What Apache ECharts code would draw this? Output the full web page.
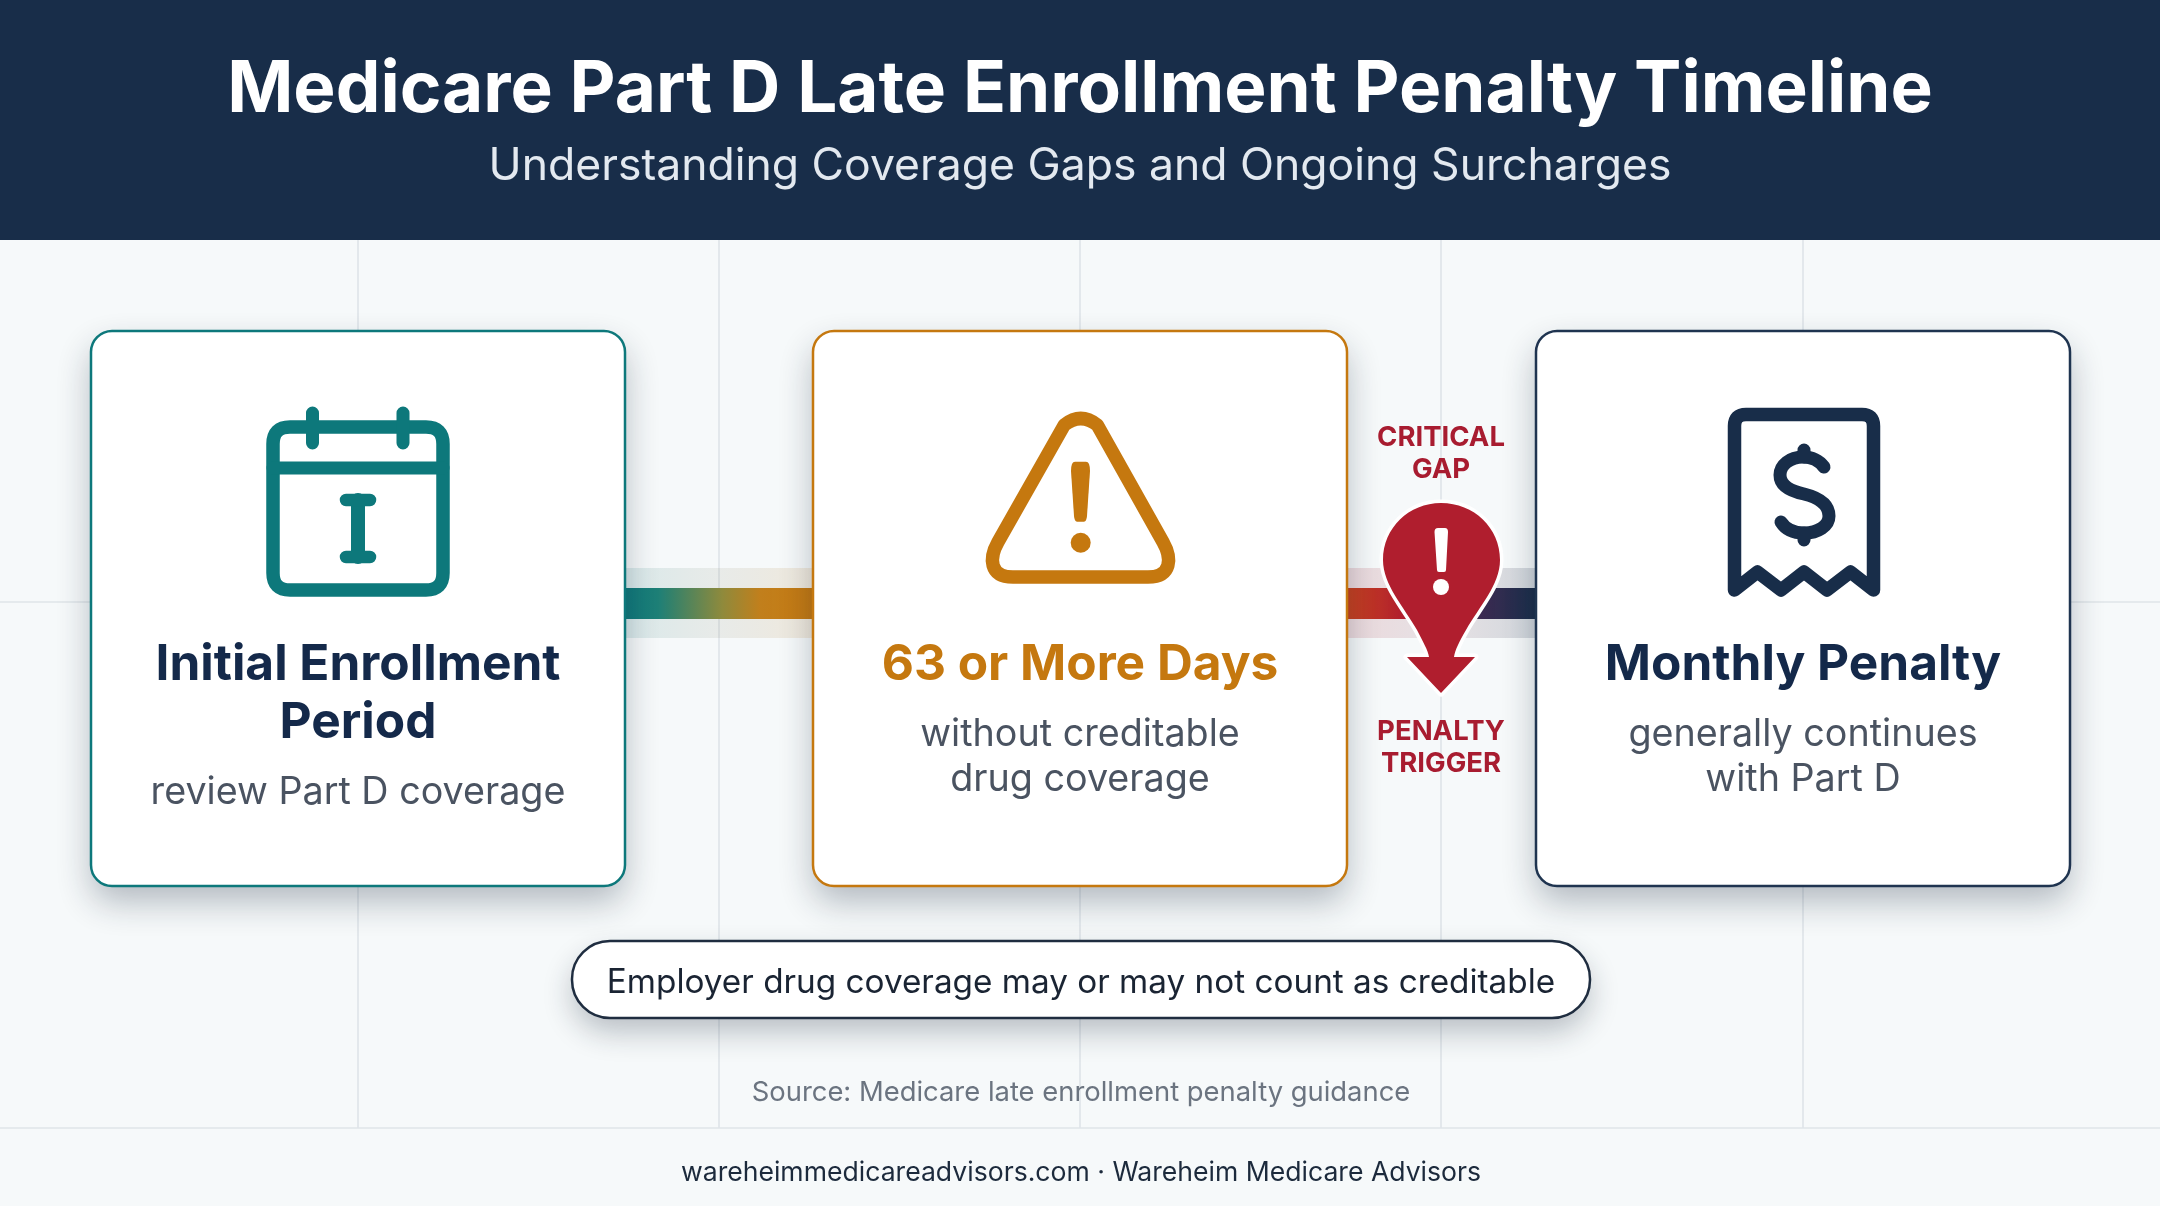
<!DOCTYPE html>
<html><head><meta charset="utf-8">
<style>html,body{margin:0;padding:0;background:#f6f9fa}#c{width:2160px;height:1206px}</style>
<script src="https://cdn.jsdelivr.net/npm/echarts@6/dist/echarts.min.js"></script>
</head><body><div id="c"></div>
<script>
// Text content
const chartTitle = 'Medicare Part D Late Enrollment Penalty Timeline';
const chartSubtitle = 'Understanding Coverage Gaps and Ongoing Surcharges';
const cardHeadings = [['Initial Enrollment','Period'],['63 or More Days'],['Monthly Penalty']];
const cardNotes = [['review Part D coverage'],['without creditable','drug coverage'],['generally continues','with Part D']];
const gapLabelTop = ['CRITICAL','GAP'];
const gapLabelBottom = ['PENALTY','TRIGGER'];
const pillText = 'Employer drug coverage may or may not count as creditable';
const sourceText = 'Source: Medicare late enrollment penalty guidance';
const footerText = 'wareheimmedicareadvisors.com · Wareheim Medicare Advisors';
// Background rule positions on the page-sized axes
const verticalRules = [358,719,1080,1441,1803];
const horizontalRules = [362,888];

const FONT = 'Inter, "Noto Sans", sans-serif';
const NAVY='#182d49', TEAL='#0d787b', AMBER='#c5780f', RED='#b01e2e', INK='#14294a', GREY='#4a5361';
const LG = echarts.graphic.LinearGradient;
const els=[], icons=[];
const add=(o,z)=>{o.silent=true;o.z=z;els.push(o);};
const text=(s,x,y,size,weight,fill)=>add({type:'text',style:{text:s,x,y,fontFamily:FONT,fontSize:size,fontWeight:weight,fill,textAlign:'center',textVerticalAlign:'middle'}},14);
const stroke=(d,color,w)=>icons.push({type:'path',z2:icons.length,shape:{pathData:d},style:{fill:'none',stroke:color,lineWidth:w,lineCap:'round',lineJoin:'round'}});
const fill=(d,color,extra)=>icons.push({type:'path',z2:icons.length,shape:{pathData:d},style:Object.assign({fill:color},extra||{})});
const dot=(cx,cy,r,color)=>icons.push({type:'circle',z2:icons.length,shape:{cx,cy,r},style:{fill:color}});
const panel=(shape,border,shadow,blur,dy)=>{
  add({type:'rect',shape,style:{fill:'#fff',shadowBlur:blur,shadowOffsetY:dy,shadowColor:shadow}},11);
  add({type:'rect',shape,style:{fill:'#fff',stroke:border,lineWidth:2.5}},11);
};

// header
add({type:'rect',shape:{x:0,y:0,width:2160,height:240},style:{fill:NAVY}},11);
text(chartTitle,1080,91,71,700,'#ffffff');
text(chartSubtitle,1080,167,44.5,400,'#e3e9f0');

// connectors
const conn=(x,w,stops,haloStops)=>{
  add({type:'rect',shape:{x,y:568,width:w,height:70},style:{fill:new LG(0,0,1,0,haloStops)}},10);
  add({type:'rect',shape:{x,y:588,width:w,height:31},style:{fill:new LG(0,0,1,0,stops)}},10);
};
conn(624,189,[{offset:0,color:TEAL},{offset:.18,color:'#1c7f76'},{offset:.52,color:'#8f8a3c'},{offset:.72,color:'#c17f1c'},{offset:1,color:AMBER}],
  [{offset:0,color:'rgba(15,124,128,.13)'},{offset:.5,color:'rgba(110,110,80,.10)'},{offset:1,color:'rgba(197,120,15,.13)'}]);
conn(1347,189,[{offset:0,color:'#c8411d'},{offset:.3,color:'#b01e2e'},{offset:.7,color:'#3d2a52'},{offset:1,color:NAVY}],
  [{offset:0,color:'rgba(176,30,46,.15)'},{offset:.5,color:'rgba(120,60,80,.12)'},{offset:1,color:'rgba(24,45,73,.17)'}]);

// cards
const cardX=[91,813,1536], cardColors=[TEAL,AMBER,'#1f3450'];
cardX.forEach((x,i)=>{
  panel({x,y:331,width:534,height:555,r:21},cardColors[i],'rgba(20,35,55,.30)',34,16);
  const cx=x+267, head=cardHeadings[i], note=cardNotes[i];
  head.forEach((t,j)=>text(t,cx,665+58*j,49.6,700,i===1?AMBER:INK));
  const ny = head.length===2 ? [793] : [735,780];
  note.forEach((t,j)=>text(t,cx,ny[j],37.7,400,GREY));
});

// calendar icon
stroke('M290 427H426Q443 427 443 444V573Q443 590 426 590H290Q273 590 273 573V444Q273 427 290 427Z',TEAL,13.5);
stroke('M273 468H443',TEAL,13);
stroke('M312.5 413V443M403 413V443',TEAL,13);
stroke('M358 500V557',TEAL,14);
stroke('M346 500H370M346 557H370',TEAL,12.5);

// warning icon
stroke('M1064.3 425Q1080.7 412 1097.3 425L1163 542C1172 558 1172 577 1148 577H1013C989 577 989 558 998 542Z',AMBER,13.5);
fill('M1071 471Q1071 461.7 1075 461.7H1086Q1090 461.7 1090 471L1087 516Q1086.5 521.7 1084 521.7H1077Q1074.5 521.7 1074 516Z',AMBER);
dot(1080.7,542.7,10,AMBER);

// receipt icon
stroke('M1734.5 590V426Q1734.5 414.5 1746 414.5H1862Q1873.5 414.5 1873.5 426V590L1850.5 572L1827 590L1804 572L1781 590L1757.5 572Z',NAVY,13.5);
stroke('M1824 467C1818 459 1810 457 1803 457C1790 457 1780 465 1780 475C1780 486 1790 491 1804 494C1820 498 1829 505 1829 516C1829 526 1818 533 1804 533C1795 533 1786 530 1781 522',NAVY,13);
stroke('M1804 450V457M1804 533V540',NAVY,13);

// gap marker
gapLabelTop.forEach((t,j)=>text(t,1441,438+32*j,27.5,700,'#a81c30'));
gapLabelBottom.forEach((t,j)=>text(t,1441,732+32*j,27.5,700,'#a81c30'));
const pinPath='M1441 503C1474 503 1500 528 1500 560C1500 585 1479 607 1466 630C1459 642 1455 650 1454 657L1475 657L1441 693L1407 657L1429 657C1428 650 1423 642 1417 630C1404 607 1383 585 1383 560C1383 528 1409 503 1441 503Z';
fill(pinPath,'#fff',{stroke:'#fff',lineWidth:7,lineJoin:'round'});
fill(pinPath,RED);
fill('M1434.5 532Q1434.5 528 1438 528H1445Q1448 528 1448 532L1446 570Q1446 572 1444 572H1439Q1437 572 1437 570Z','#fff');
dot(1441,587,8,'#fff');

// pill
panel({x:572,y:941,width:1018,height:77,r:38},'#1f2d40','rgba(20,35,55,.28)',30,14);
text(pillText,1081,983,33.3,400,'#1a2433');
text(sourceText,1081,1093,27.4,400,'#6b7480');
text(footerText,1081,1173,26.6,400,'#1c2a3c');

const chart=echarts.init(document.getElementById('c'),null,{renderer:'canvas'});
const ruleStyle={show:true,lineStyle:{color:'#dfe4e9',width:1.6}};
chart.setOption({
  animation:false,
  backgroundColor:'#f6f9fa',
  grid:{left:0,right:0,top:240,height:888},
  xAxis:{type:'value',min:0,max:2160,axisLine:{show:false},axisLabel:{show:false},axisTick:{show:false,customValues:verticalRules},splitLine:ruleStyle},
  yAxis:{type:'value',min:0,max:888,inverse:true,axisLine:{show:false},axisLabel:{show:false},axisTick:{show:false,customValues:horizontalRules},splitLine:ruleStyle},
  series:[{type:'custom',coordinateSystem:'none',z:12,silent:true,data:[0],renderItem:()=>({type:'group',children:icons})}],
  graphic:{elements:els}
});
</script></body></html>
